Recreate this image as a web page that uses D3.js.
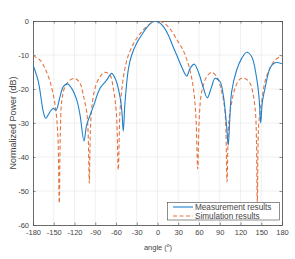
<!DOCTYPE html>
<html>
<head>
<meta charset="utf-8">
<script src="https://cdn.jsdelivr.net/npm/d3@7"></script>
<style>
  body { margin: 0; background: #fff; }
  svg { font-family: "Liberation Sans", Arial, sans-serif; }
</style>
</head>
<body>
<svg id="chart" width="295" height="259"></svg>
<script>
// angle (deg) / power (dB)
let measAngle = [-180, -172.3, -165.1, -161.6, -155.4, -150.6, -146.7, -141, -136.2, -130.4, -124.1, -116.8, -112, -106.3, -102.4, -92.8, -83.1, -73.5, -66.2, -60, -54.2, -51.5, -49.5, -47, -42, -37.3, -30, -22.9, -15, -8, -3.6, 2, 8, 15.6, 22, 27.7, 35, 42.2, 47, 53.2, 60, 66, 72, 78, 83.1, 90.3, 95.1, 100, 102.3, 104.5, 107.2, 114.5, 121.7, 129, 136.2, 143.4, 147, 149.2, 151.5, 155.4, 162.6, 168, 172.3, 180]
let measPower = [-12.9, -17.8, -26.7, -28.6, -26.7, -25.7, -26.2, -22.3, -19.3, -18.5, -19.8, -23.2, -27.6, -35.3, -30.6, -25.2, -19.8, -17.4, -15.4, -17.5, -22.3, -26.5, -32.4, -24, -14, -10, -6.5, -4.1, -1.8, -0.4, 0, -0.4, -1.5, -4.1, -7.3, -10, -13.5, -16.2, -14, -12.7, -15.5, -19.5, -22.6, -19.5, -16.9, -17.8, -21.8, -31, -36.5, -29, -20.8, -14.4, -11, -9.2, -10.5, -16.9, -23, -30, -24, -19.8, -13.9, -12.5, -12.2, -12.6]

let simAngle = [-180, -169.9, -162.7, -155.4, -150.6, -146.7, -144, -142, -140.5, -138.5, -133.7, -126.5, -119.3, -112, -107.3, -102.4, -100.3, -98.6, -97, -95.1, -90.4, -83.1, -75.9, -68.7, -63.9, -59.5, -56.7, -54.3, -51, -47, -42, -35, -28, -20, -10, -1, 10, 20, 28, 35, 40, 47, 52, 55.5, 58.1, 60.5, 63.9, 71.1, 78.3, 85.6, 92.8, 97.6, 100.5, 103, 107.2, 112, 119.3, 126.5, 133.7, 138.5, 142, 144.3, 146.5, 150.6, 155.4, 162.6, 169.9, 180]
let simPower = [-10.2, -11.5, -13.9, -17.8, -21.8, -26.7, -34, -53.6, -33, -23.7, -19.3, -17.4, -16.9, -18.3, -21.8, -26.7, -33, -47.7, -32, -25.7, -19.8, -16.4, -15.1, -15.9, -19.8, -27, -43.8, -27, -19, -13.9, -10, -6.8, -4.5, -2.5, -0.7, 0, -0.7, -2.8, -5.5, -7.8, -10, -14.5, -20, -28, -43.5, -28, -20.8, -16.4, -15.1, -16.4, -20.8, -26.7, -47.3, -30, -24, -19.8, -17.1, -16.9, -18.3, -21.8, -28, -53.3, -30, -23.7, -17.8, -13.9, -11.5, -10.2]

let xTicks = d3.range(-180, 181, 30)
let yTicks = d3.range(-60, 1, 10)

let svg = d3.select('#chart')
let mLeft = 33, mRight = 282, mTop = 21, mBottom = 225
let ink = '#444'

let x = d3.scaleLinear().domain([-180, 180]).range([mLeft, mRight])
let y = d3.scaleLinear().domain([-60, 0]).range([mBottom, mTop])

// grid
svg.append('g').selectAll('line')
    .data(xTicks.slice(1, -1))
    .enter().append('line')
    .attr('x1', d => x(d)).attr('x2', d => x(d))
    .attr('y1', mTop).attr('y2', mBottom)
    .attr('stroke', '#e6e6e6').attr('stroke-width', 0.6)
svg.append('g').selectAll('line')
    .data(yTicks.slice(1, -1))
    .enter().append('line')
    .attr('x1', mLeft).attr('x2', mRight)
    .attr('y1', d => y(d)).attr('y2', d => y(d))
    .attr('stroke', '#e6e6e6').attr('stroke-width', 0.6)

// axes
let fmt = d => String(d)
let axisStyle = g => {
    g.select('.domain').attr('stroke', ink).attr('stroke-width', 0.8)
    g.selectAll('.tick line').attr('stroke', ink).attr('stroke-width', 0.6)
    g.selectAll('.tick text').attr('fill', ink).attr('font-size', 7.5)
}
svg.append('g')
    .attr('transform', `translate(0,${mBottom})`)
    .call(d3.axisBottom(x).tickValues(xTicks).tickFormat(fmt).tickSizeInner(-2.5).tickSizeOuter(0).tickPadding(5))
    .call(axisStyle)
svg.append('g')
    .attr('transform', `translate(0,${mTop})`)
    .call(d3.axisTop(x).tickValues(xTicks).tickSizeInner(-2.5).tickSizeOuter(0).tickFormat(''))
    .call(axisStyle)
svg.append('g')
    .attr('transform', `translate(${mLeft},0)`)
    .call(d3.axisLeft(y).tickValues(yTicks).tickFormat(fmt).tickSizeInner(-2.5).tickSizeOuter(0).tickPadding(4))
    .call(axisStyle)
svg.append('g')
    .attr('transform', `translate(${mRight},0)`)
    .call(d3.axisRight(y).tickValues(yTicks).tickSizeInner(-2.5).tickSizeOuter(0).tickFormat(''))
    .call(axisStyle)

let clip = svg.append('clipPath').attr('id', 'plotclip')
clip.append('rect').attr('x', mLeft).attr('y', mTop).attr('width', mRight - mLeft).attr('height', mBottom - mTop)

let line = d3.line()
    .x(d => x(d[0]))
    .y(d => y(d[1]))
    .curve(d3.curveCatmullRom.alpha(0.5))

svg.append('path')
    .datum(d3.zip(simAngle, simPower))
    .attr('clip-path', 'url(#plotclip)')
    .attr('d', line)
    .attr('fill', 'none')
    .attr('stroke', '#e5733f')
    .attr('stroke-width', 1.1)
    .attr('stroke-dasharray', '4,2.5')

svg.append('path')
    .datum(d3.zip(measAngle, measPower))
    .attr('clip-path', 'url(#plotclip)')
    .attr('d', line)
    .attr('fill', 'none')
    .attr('stroke', '#1f80cc')
    .attr('stroke-width', 1.1)

// legend
let lg = svg.append('g')
lg.append('rect')
    .attr('x', 167.5).attr('y', 202.5).attr('width', 112).attr('height', 17.5)
    .attr('fill', '#fff').attr('stroke', ink).attr('stroke-width', 0.6)
let items = [['Measurement results', '#1f80cc', null], ['Simulation results', '#e5733f', '4,2.5']]
items.forEach((it, i) => {
    let yy = 207 + i * 9
    lg.append('line')
        .attr('x1', 173).attr('x2', 193).attr('y1', yy).attr('y2', yy)
        .attr('stroke', it[1]).attr('stroke-width', 1.1)
        .attr('stroke-dasharray', it[2])
    lg.append('text')
        .attr('x', 195).attr('y', yy + 3)
        .attr('font-size', 8.2).attr('fill', ink)
        .text(it[0])
})

// labels
let xl = svg.append('text')
    .attr('x', 158).attr('y', 250)
    .attr('text-anchor', 'middle')
    .attr('font-size', 7.5).attr('fill', ink)
xl.append('tspan').text('angle (')
xl.append('tspan').attr('font-size', 5).attr('dy', -3).text('o')
xl.append('tspan').attr('dy', 3).text(')')

svg.append('text')
    .attr('transform', 'translate(16,123) rotate(-90)')
    .attr('text-anchor', 'middle')
    .attr('font-size', 9).attr('fill', ink)
    .text('Normalized Power (dB)')
</script>
</body>
</html>
